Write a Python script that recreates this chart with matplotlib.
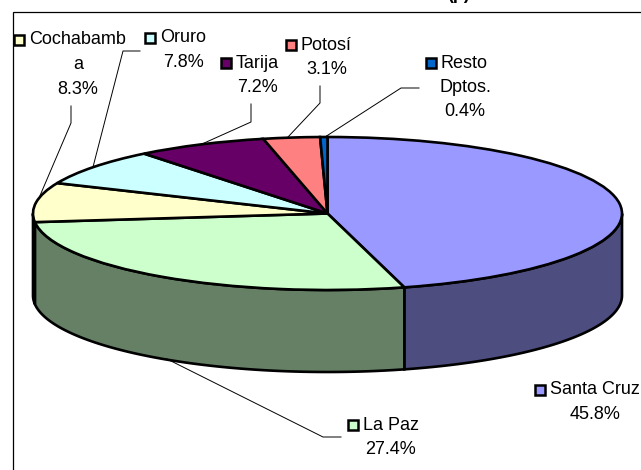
import numpy as np
import matplotlib
matplotlib.use('Agg')
import matplotlib.pyplot as plt
from matplotlib.colors import to_rgb

plt.rcParams['font.family'] = ['Liberation Sans', 'DejaVu Sans']

W, H = 641, 470

# data, clockwise from 12 o'clock
names = ['Santa Cruz', 'La Paz', 'Cochabamba', 'Oruro', 'Tarija', 'Potosí', 'Resto Dptos.']
values = [45.8, 27.4, 8.3, 7.8, 7.2, 3.1, 0.4]
colors = ['#9999FF', '#CCFFCC', '#FFFFCC', '#CCFFFF', '#660066', '#FF8080', '#0066CC']

# text lines of each label, then where they sit in pixels
label_lines = [['Santa Cruz', '45.8%'], ['La Paz', '27.4%'], ['Cochabamb', 'a', '8.3%'], ['Oruro', '7.8%'],
               ['Tarija', '7.2%'], ['Potosí', '3.1%'], ['Resto', 'Dptos.', '0.4%']]
label_x = [595, 390, 78, 183, 258, 327, 465]
label_y = [390, 425, 40, 38, 63, 45, 63]
first_x = [550, 363, 29, 160, 236, 301, 441]  # left edge of first line
line_step = 24.5

leaders = [None,
           [(167, 359), (323, 437), (341, 437)],
           [(71, 106), (71, 123), (39, 198)],
           [(140, 51), (123, 51), (93, 167)],
           [(251, 104), (251, 122), (202, 144)],
           [(320, 86), (320, 103), (288, 137)],
           [(419, 88), (401, 88), (325, 137)]]

# pie ellipse in pixels
left, right, top, bottom = 33, 622, 137, 290
depth = 82

fig = plt.figure(figsize=(W / 100, H / 100), dpi=100, facecolor='white')

ax = fig.add_axes([left / W, (H - bottom) / H, (right - left) / W, (bottom - top) / H])
wedges, _ = ax.pie(values, colors=colors, startangle=90, counterclock=False,
                   wedgeprops={'edgecolor': 'black', 'linewidth': 1.9, 'clip_on': False, 'zorder': 3})
ax.set_aspect('auto')
ax.set_xlim(-1, 1)
ax.set_ylim(-1, 1)

# side wall, only the part of each slice facing front
drop = depth / ((bottom - top) / 2)
start = 0
for v, c in zip(values, colors):
    a0 = start / 100 * 360
    a1 = (start + v) / 100 * 360
    start += v
    a0, a1 = max(a0, 90), min(a1, 270)
    if a1 <= a0:
        continue
    t = np.radians(np.linspace(a0, a1, 120))
    x, y = np.sin(t), np.cos(t)
    ax.fill(np.r_[x, x[::-1]], np.r_[y, y[::-1] - drop], facecolor=np.array(to_rgb(c)) * 0.5,
            edgecolor='black', linewidth=1.9, clip_on=False, zorder=2)

# overlay in pixel coordinates for frame, labels and leader lines
ov = fig.add_axes([0, 0, 1, 1], facecolor='none')
ov.set_xlim(0, W)
ov.set_ylim(H, 0)
ov.axis('off')

ov.plot([13, 13, W], [H, 12, 12], color='black', lw=0.9, solid_joinstyle='miter')
ov.text(458, 3, '(p)', fontsize=13, fontweight='bold', ha='center', va='bottom')

for i, lines in enumerate(label_lines):
    for j, s in enumerate(lines):
        if j == 0:
            ov.text(first_x[i], label_y[i], s, fontsize=13, ha='left', va='center', color='black')
        else:
            ov.text(label_x[i], label_y[i] + j * line_step, s, fontsize=13, ha='center', va='center', color='black')
    ov.plot(first_x[i] - 10.5, label_y[i], marker='s', ms=7.5, mfc=colors[i], mec='black', mew=1.8)
    if leaders[i]:
        lx, ly = zip(*leaders[i])
        ov.plot(lx, ly, color='black', lw=0.7)

fig.savefig('out.png', dpi=100)
